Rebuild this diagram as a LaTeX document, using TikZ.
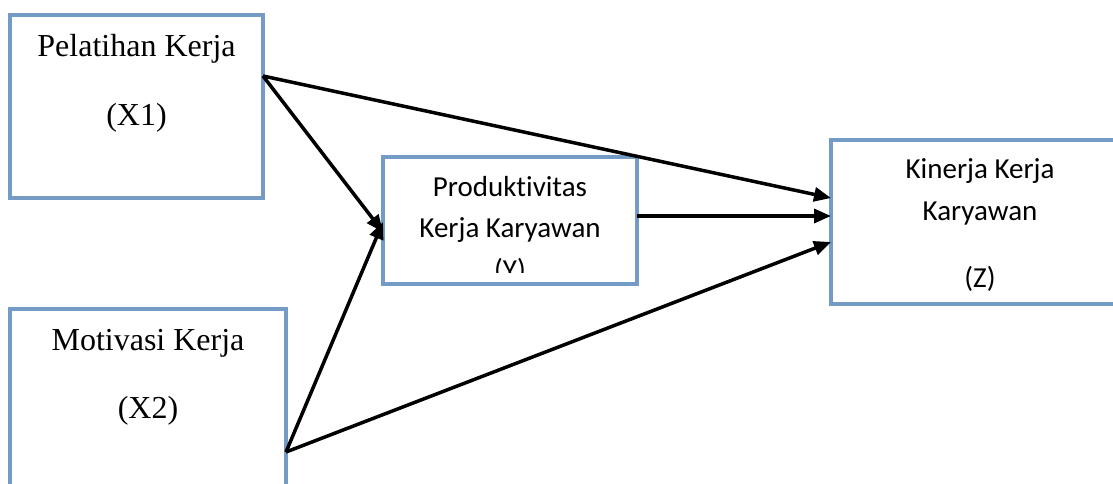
\documentclass[tikz,border=0pt]{standalone}
\usepackage{fontspec}
\setmainfont{Liberation Serif}
\newfontfamily\calibrifont[Ligatures={NoCommon}]{Carlito}
\usetikzlibrary{arrows.meta}
\definecolor{boxblue}{RGB}{116,155,197}
\tikzset{
  box/.style={draw=boxblue, line width=3.5pt, fill=white, inner sep=0pt, outer sep=0pt, anchor=north west},
  timestext/.style={anchor=base, inner sep=0pt, font=\fontsize{32}{38}\selectfont},
  calitext/.style={anchor=base, inner sep=0pt, font=\calibrifont\fontsize{29}{35}\selectfont},
  conn/.style={line width=3.5pt, -{Triangle[length=17pt,width=14pt]}}
}
\begin{document}
\begin{tikzpicture}[x=1pt,y=-1pt]
\useasboundingbox (0,0) rectangle (1113,484);
\begin{scope}
\clip (0,0) rectangle (1113,484);
% boxes
\node[box, minimum width=253pt, minimum height=183pt] (x1) at (10,15) {};
\node[box, minimum width=276pt, minimum height=200pt] (x2) at (10,309) {};
\node[box, minimum width=254pt, minimum height=127pt] (y) at (383,157) {};
\node[box, minimum width=298pt, minimum height=164pt] (z) at (831,140) {};
% texts
\node[timestext] (x1a) at (136.5,57) {Pelatihan Kerja};
\node[timestext] (x1b) at (136.5,125) {(X1)};
\node[timestext] (x2a) at (148,350) {Motivasi Kerja};
\node[timestext] (x2b) at (148,418) {(X2)};
\node[calitext] (ya) at (510,196) {Produktivitas};
\node[calitext] (yb) at (510,237) {Kerja Karyawan};
\begin{scope}
\clip (385,159) rectangle (635,272);
\node[calitext] (yc) at (510,279) {(Y)};
\end{scope}
\node[calitext] (za) at (980,178) {Kinerja Kerja};
\node[calitext] (zb) at (980,220) {Karyawan};
\node[calitext] (zc) at (980,287) {(Z)};
% connectors
\draw[conn] ([yshift=-61pt]x1.north east) -- ([yshift=-58pt]z.north west);
\draw[conn] ([yshift=-61pt]x1.north east) -- ([yshift=-75pt]y.north west);
\draw[conn] ([yshift=-143pt]x2.north east) -- ([yshift=-65pt]y.north west);
\draw[conn] ([yshift=-143pt]x2.north east) -- ([yshift=-102pt]z.north west);
\draw[conn] ([yshift=-59pt]y.north east) -- ([yshift=-76pt]z.north west);
\end{scope}
\end{tikzpicture}
\end{document}
